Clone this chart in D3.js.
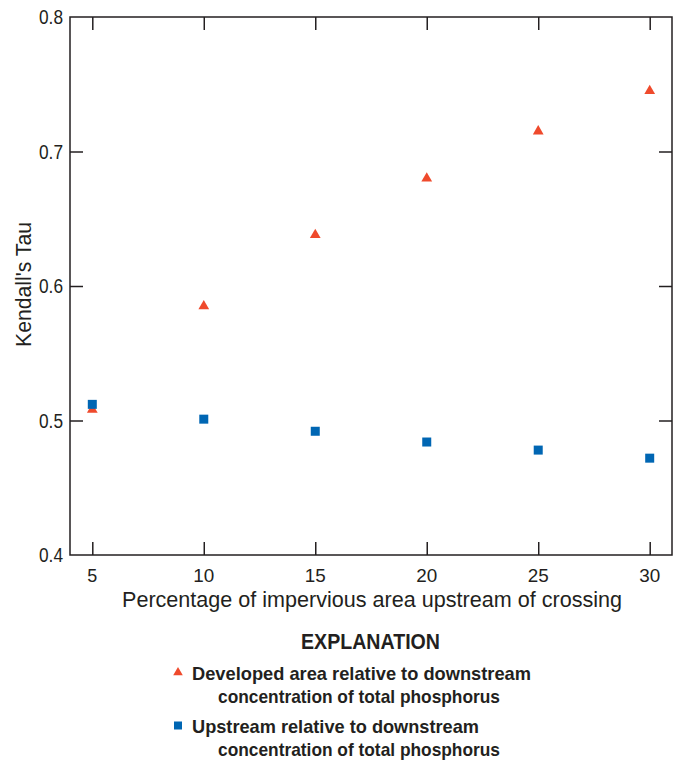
<!DOCTYPE html>
<html>
<head>
<meta charset="utf-8">
<script src="https://cdn.jsdelivr.net/npm/d3@7/dist/d3.min.js"></script>
<style>
  html, body { margin: 0; padding: 0; background: #fff; }
  svg text { font-family: "Liberation Sans Narrow", "Arial Narrow", "Liberation Sans", sans-serif; fill: #231f20; }
</style>
</head>
<body>
<svg id="chart" width="684" height="761"></svg>
<script>
const xValues = [5, 10, 15, 20, 25, 30];
const developedTau = [0.508, 0.585, 0.638, 0.680, 0.715, 0.745];
const upstreamTau = [0.512, 0.501, 0.492, 0.484, 0.478, 0.472];
const xTicks = [5, 10, 15, 20, 25, 30];
const yTicks = [0.4, 0.5, 0.6, 0.7, 0.8];
const xTitle = "Percentage of impervious area upstream of crossing";
const yTitle = "Kendall's Tau";
const legendTitle = "EXPLANATION";
const legendItems = [
  ["Developed area relative to downstream", "concentration of total phosphorus"],
  ["Upstream relative to downstream", "concentration of total phosphorus"]
];

const svg = d3.select("#chart");
const L = 70, R = 672, T = 17, B = 555;
const x = d3.scaleLinear().domain([4, 31]).range([L, R]);
const y = d3.scaleLinear().domain([0.4, 0.8]).range([B, T]);
const red = "#ef4a2c", blue = "#0066b3", ink = "#231f20";
const tickLen = 13;

// frame
svg.append("rect").attr("x", L).attr("y", T).attr("width", R - L).attr("height", B - T)
  .attr("fill", "none").attr("stroke", ink).attr("stroke-width", 1.5);

// axes with inward ticks
const gl = svg.append("g").attr("transform", `translate(${L},0)`)
  .call(d3.axisRight(y).tickValues(yTicks.slice(1, -1)).tickSize(tickLen).tickFormat(""));
const gr = svg.append("g").attr("transform", `translate(${R},0)`)
  .call(d3.axisLeft(y).tickValues(yTicks.slice(1, -1)).tickSize(tickLen).tickFormat(""));
const gb = svg.append("g").attr("transform", `translate(0,${B})`)
  .call(d3.axisTop(x).tickValues(xTicks).tickSize(tickLen).tickFormat(""));
const gt = svg.append("g").attr("transform", `translate(0,${T})`)
  .call(d3.axisBottom(x).tickValues(xTicks).tickSize(tickLen).tickFormat(""));
[gl, gr, gb, gt].forEach(g => {
  g.select(".domain").remove();
  g.selectAll("line").attr("stroke", ink).attr("stroke-width", 1.5);
});

// tick labels
svg.append("g").selectAll("text").data(yTicks).join("text")
  .attr("x", L - 7).attr("y", d => y(d)).attr("dy", "0.35em")
  .attr("text-anchor", "end").attr("font-size", 20)
  .attr("textLength", 24).attr("lengthAdjust", "spacingAndGlyphs")
  .text(d => d.toFixed(1));
svg.append("g").selectAll("text").data(xTicks).join("text")
  .attr("x", d => x(d)).attr("y", B + 27)
  .attr("text-anchor", "middle").attr("font-size", 19)
  .attr("textLength", d => d < 10 ? 10 : 21).attr("lengthAdjust", "spacingAndGlyphs")
  .text(d => d);

// axis titles
svg.append("text").attr("x", 122).attr("y", 607)
  .attr("font-size", 22).attr("textLength", 500).attr("lengthAdjust", "spacingAndGlyphs").text(xTitle);
svg.append("text").attr("transform", `translate(31,347) rotate(-90)`)
  .attr("font-size", 22).attr("textLength", 125).attr("lengthAdjust", "spacingAndGlyphs").text(yTitle);

// markers
const tri = d3.symbol().type(d3.symbolTriangle).size(50);
svg.append("g").selectAll("path").data(xValues.map((v, i) => [v, developedTau[i]])).join("path")
  .attr("d", tri).attr("fill", red)
  .attr("transform", d => `translate(${x(d[0])},${y(d[1])})`);
svg.append("g").selectAll("rect").data(xValues.map((v, i) => [v, upstreamTau[i]])).join("rect")
  .attr("x", d => x(d[0]) - 4.5).attr("y", d => y(d[1]) - 4.5).attr("width", 9).attr("height", 9)
  .attr("fill", blue);

// legend
svg.append("text").attr("x", 301).attr("y", 649)
  .attr("font-size", 22).attr("font-weight", "bold")
  .attr("textLength", 139).attr("lengthAdjust", "spacingAndGlyphs").text(legendTitle);
const ly = [680, 733];
const lw = [[339, 282], [287, 282]];
legendItems.forEach((lines, i) => {
  if (i === 0) {
    svg.append("path").attr("d", d3.symbol().type(d3.symbolTriangle).size(40)).attr("fill", red)
      .attr("transform", `translate(178,${ly[i] - 7.5})`);
  } else {
    svg.append("rect").attr("x", 174).attr("y", ly[i] - 11.5).attr("width", 8).attr("height", 8).attr("fill", blue);
  }
  svg.append("text").attr("x", 192).attr("y", ly[i]).attr("font-size", 19).attr("font-weight", "bold")
    .attr("textLength", lw[i][0]).attr("lengthAdjust", "spacingAndGlyphs").text(lines[0]);
  svg.append("text").attr("x", 218).attr("y", ly[i] + 23).attr("font-size", 19).attr("font-weight", "bold")
    .attr("textLength", lw[i][1]).attr("lengthAdjust", "spacingAndGlyphs").text(lines[1]);
});
</script>
</body>
</html>
